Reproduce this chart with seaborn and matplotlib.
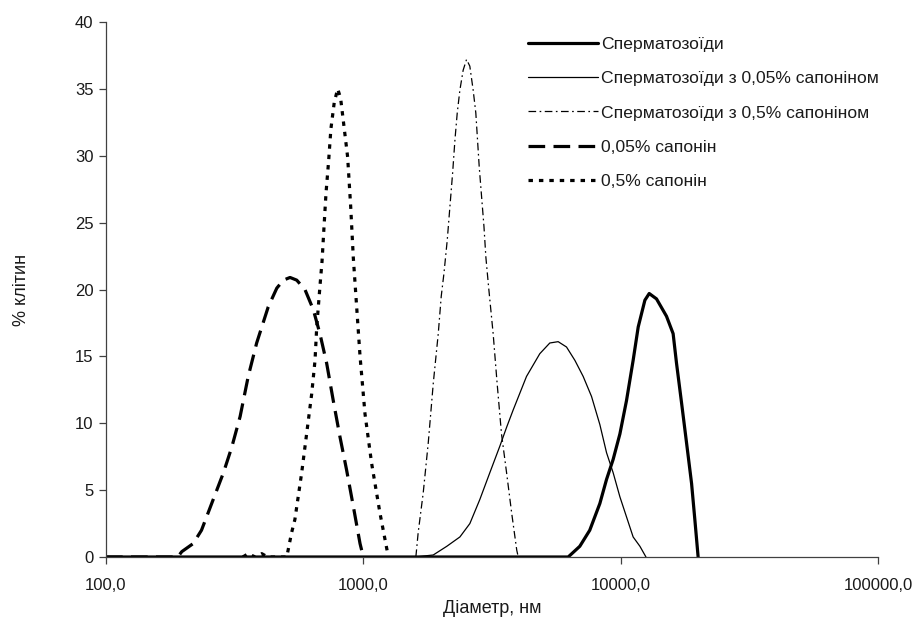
import matplotlib
matplotlib.use("Agg")
import matplotlib.pyplot as plt
import matplotlib.ticker as mticker
import seaborn as sns
import pandas as pd

# ---------------- data ----------------
labels = ["Сперматозоїди",
          "Сперматозоїди з 0,05% сапоніном",
          "Сперматозоїди з 0,5% сапоніном",
          "0,05% сапонін",
          "0,5% сапонін"]

# Сперматозоїди
x_sperm = [100, 6252, 6937, 7583, 8301, 8812, 9350, 9931, 10537, 11180, 11700,
           12420, 12910, 13780, 15070, 15990, 16480, 17250, 18040, 18860, 19420, 20000]
y_sperm = [0, 0, 0.8, 2.0, 4.0, 5.8, 7.3, 9.2, 11.7, 14.7, 17.2,
           19.2, 19.7, 19.3, 18.0, 16.7, 14.5, 11.5, 8.5, 5.5, 2.8, 0]

# Сперматозоїди з 0,05% сапоніном
x_sp005 = [100, 1585, 1869, 2110, 2373, 2594, 2836, 3101, 3394, 3604, 3823, 4306,
           4850, 5304, 5716, 6160, 6640, 7150, 7706, 8301, 8812, 9350, 9931,
           10537, 11180, 11880, 12540]
y_sp005 = [0, 0, 0.15, 0.8, 1.5, 2.5, 4.3, 6.3, 8.3, 9.7, 11.0, 13.5,
           15.2, 16.0, 16.1, 15.7, 14.7, 13.5, 12.0, 9.9, 7.8, 6.3, 4.5,
           3.0, 1.5, 0.8, 0]

# Сперматозоїди з 0,5% сапоніном
x_sp05 = [1600, 1633, 1709, 1787, 1870, 1955, 2008, 2057, 2119, 2170, 2223, 2270,
          2317, 2372, 2443, 2518, 2593, 2672, 2736, 2820, 2882, 2943, 2994, 3067,
          3103, 3195, 3310, 3443, 3603, 3770, 3947, 4000]
y_sp05 = [0, 1.8, 4.8, 8.5, 13.0, 16.7, 19.5, 21.2, 23.7, 26.2, 28.7, 31.2,
          33.2, 34.9, 36.4, 37.2, 36.7, 34.9, 33.2, 29.2, 26.9, 24.7, 22.4, 20.2,
          19.2, 16.7, 13.0, 9.2, 6.3, 3.3, 0.5, 0]

# 0,05% сапонін
x_sap005 = [100, 190, 197, 218, 235, 261, 286, 308, 332, 357, 385, 427, 461, 489,
            519, 551, 593, 639, 678, 720, 764, 811, 861, 914, 971, 1000]
y_sap005 = [0, 0, 0.4, 1.0, 2.0, 4.3, 6.3, 8.2, 10.5, 13.5, 16.0, 18.7, 20.1, 20.7,
            20.9, 20.7, 20.0, 18.5, 16.7, 14.5, 11.7, 9.0, 6.5, 3.8, 1.0, 0]

# 0,5% сапонін
x_sap05 = [340, 357, 380, 403, 425, 504, 526, 542, 576, 602, 630, 649, 659, 678,
           691, 703, 716, 733, 748, 771, 795, 816, 841, 869, 893, 914, 942, 971,
           1015, 1077, 1160, 1251]
y_sap05 = [0, 0.25, 0, 0.25, 0, 0, 1.8, 2.8, 6.3, 9.2, 12.2, 14.7, 17.2, 20.2,
           22.1, 24.6, 27.2, 29.6, 32.0, 34.0, 35.0, 34.3, 32.2, 29.9, 26.2, 22.4,
           18.7, 15.0, 10.7, 7.0, 3.3, 0]

y_ticks = [0, 5, 10, 15, 20, 25, 30, 35, 40]
x_ticks = [100, 1000, 10000, 100000]

# ---------------- style ----------------
sns.set_style("ticks")
plt.rcParams["font.family"] = ["Liberation Sans", "DejaVu Sans"]
plt.rcParams["lines.scale_dashes"] = False

series = [
    (x_sperm, y_sperm, dict(color="black", linewidth=2.3, linestyle="-")),
    (x_sp005, y_sp005, dict(color="black", linewidth=0.9, linestyle="-")),
    (x_sp05, y_sp05, dict(color="black", linewidth=0.9,
                          linestyle=(0, (5.5, 2.5, 1.2, 2.5)))),
    (x_sap005, y_sap005, dict(color="black", linewidth=2.3,
                              linestyle=(0, (12, 6)))),
    (x_sap05, y_sap05, dict(color="black", linewidth=2.3,
                            linestyle=(0, (3.2, 4.3)))),
]

fig = plt.figure(figsize=(9.19, 6.24), dpi=100)
ax = fig.add_axes([106 / 919, 1 - 557 / 624, (878 - 106) / 919, (557 - 22) / 624])

for (xs, ys, kw), lab in zip(series, labels):
    df = pd.DataFrame({"x": xs, "y": ys})
    sns.lineplot(data=df, x="x", y="y", ax=ax, estimator=None, sort=False,
                 label=lab, **kw)

ax.set_xscale("log")
ax.set_xlim(100, 100000)
ax.set_ylim(0, 40)
ax.xaxis.set_major_locator(mticker.FixedLocator(x_ticks))
ax.xaxis.set_minor_locator(mticker.NullLocator())
ax.xaxis.set_major_formatter(mticker.FuncFormatter(lambda v, p: f"{v:.1f}".replace(".", ",")))
ax.set_yticks(y_ticks)

text_color = "#1a1a1a"
for s in ["top", "right"]:
    ax.spines[s].set_visible(False)
for s in ["left", "bottom"]:
    ax.spines[s].set_color("#404040")
    ax.spines[s].set_linewidth(0.9)
ax.tick_params(axis="both", colors="#404040", labelcolor=text_color, labelsize=12,
               length=5, width=0.9, direction="out")
ax.tick_params(axis="x", pad=10)
ax.tick_params(axis="y", pad=4)

ax.set_xlabel("Діаметр, нм", fontsize=13, color=text_color, labelpad=5)
ax.set_ylabel("% клітин", fontsize=13, color=text_color, labelpad=32)

leg = ax.legend(loc="upper left", bbox_to_anchor=(528 / 919, 1 - 37 / 624),
                bbox_transform=fig.transFigure, frameon=False, fontsize=12.6,
                handlelength=4.0, handletextpad=0.15, labelspacing=1.08,
                borderpad=0, borderaxespad=0)
for t in leg.get_texts():
    t.set_color(text_color)

fig.savefig("out.png", dpi=100)
